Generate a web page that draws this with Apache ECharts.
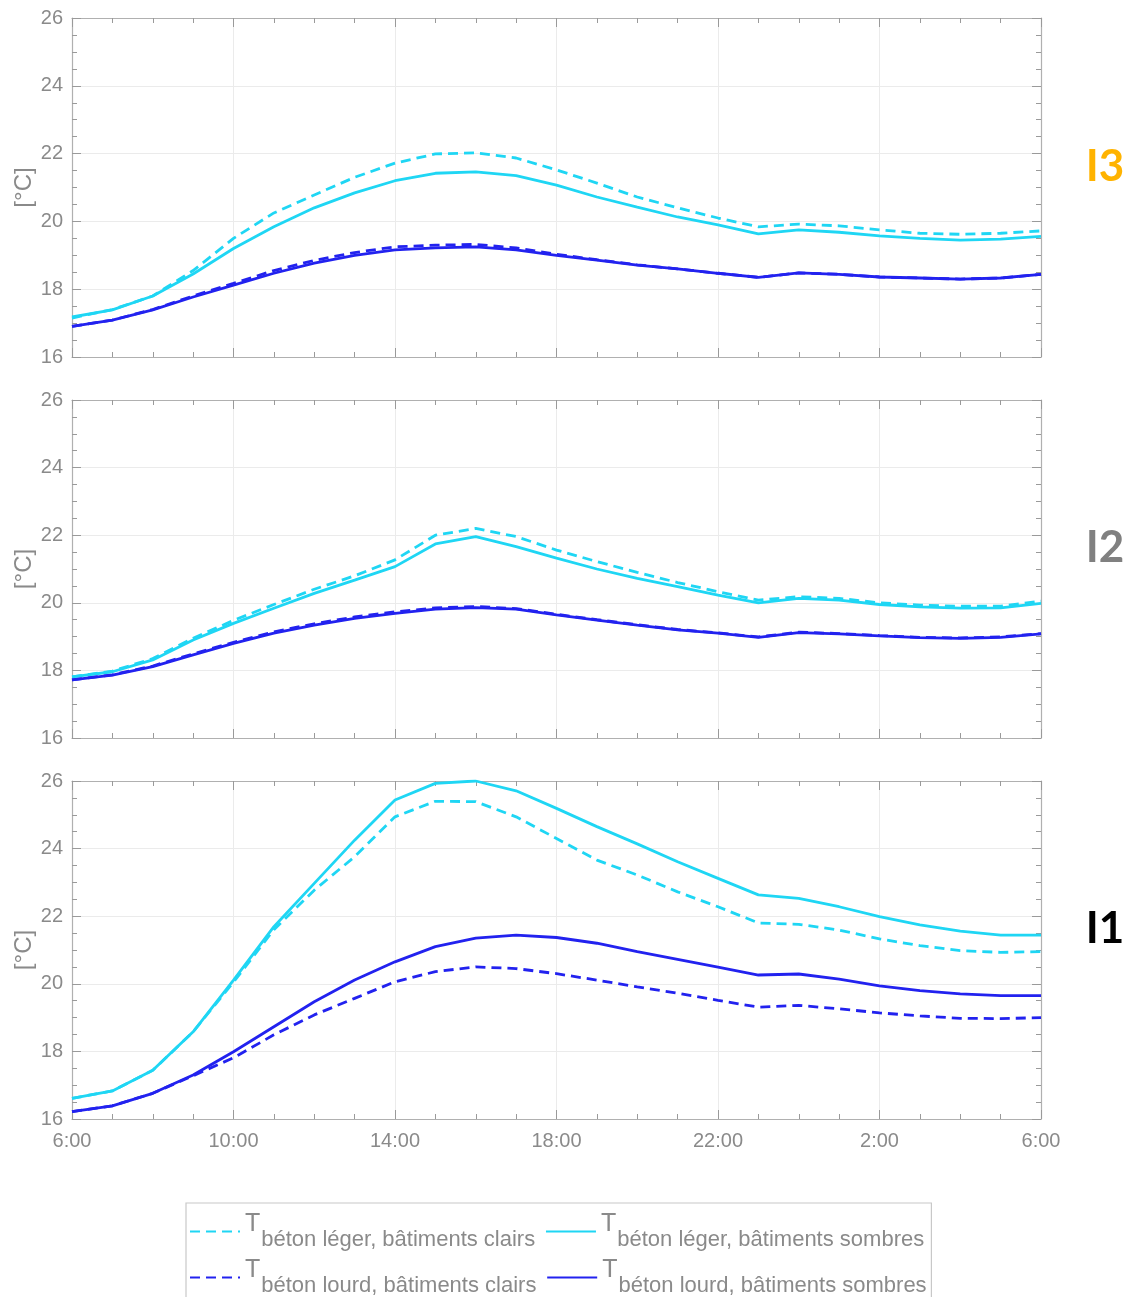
<!DOCTYPE html>
<html>
<head>
<meta charset="utf-8">
<script src="https://cdn.jsdelivr.net/npm/echarts@6/dist/echarts.min.js"></script>
<style>
html,body{margin:0;padding:0;background:#fff;}
#chart{width:1131px;height:1297px;}
</style>
</head>
<body>
<div id="chart"></div>
<script>
// hours after 6:00
const hours = [0,1,2,3,4,5,6,7,8,9,10,11,12,13,14,15,16,17,18,19,20,21,22,23,24];
const xTickLabels = ['6:00','10:00','14:00','18:00','22:00','2:00','6:00'];
const panelNames = ['I3','I2','I1'];
const seriesNames = [
  'béton léger, bâtiments clairs',
  'béton léger, bâtiments sombres',
  'béton lourd, bâtiments clairs',
  'béton lourd, bâtiments sombres'
];

// Panel I3
const i3LegerClairs   = [17.15,17.40,17.80,18.55,19.50,20.25,20.78,21.30,21.72,21.99,22.02,21.87,21.52,21.13,20.72,20.40,20.10,19.84,19.92,19.87,19.75,19.65,19.62,19.65,19.72];
const i3LegerSombres  = [17.18,17.39,17.80,18.45,19.20,19.84,20.40,20.84,21.20,21.42,21.46,21.35,21.07,20.72,20.42,20.13,19.90,19.63,19.75,19.68,19.57,19.50,19.45,19.48,19.56];
const i3LourdClairs   = [16.90,17.09,17.40,17.80,18.17,18.55,18.85,19.08,19.25,19.30,19.32,19.22,19.03,18.87,18.72,18.60,18.47,18.35,18.48,18.44,18.36,18.33,18.30,18.33,18.44];
const i3LourdSombres  = [16.90,17.09,17.39,17.77,18.12,18.47,18.77,19.00,19.16,19.22,19.25,19.16,19.00,18.86,18.71,18.60,18.47,18.35,18.48,18.44,18.36,18.33,18.30,18.33,18.44];

// Panel I2
const i2LegerClairs   = [17.81,17.98,18.35,18.95,19.48,19.95,20.40,20.80,21.27,22.00,22.20,21.96,21.56,21.22,20.90,20.60,20.33,20.08,20.18,20.13,20.00,19.93,19.90,19.90,20.05];
const i2LegerSombres  = [17.81,17.96,18.31,18.90,19.39,19.84,20.28,20.67,21.07,21.74,21.96,21.66,21.32,21.00,20.72,20.48,20.23,20.00,20.13,20.08,19.95,19.88,19.84,19.85,19.98];
const i2LourdClairs   = [17.72,17.87,18.13,18.49,18.83,19.14,19.38,19.58,19.73,19.85,19.89,19.83,19.66,19.50,19.35,19.21,19.11,18.99,19.13,19.09,19.03,18.98,18.96,18.99,19.09];
const i2LourdSombres  = [17.72,17.86,18.11,18.46,18.80,19.10,19.34,19.54,19.69,19.81,19.86,19.81,19.64,19.49,19.34,19.20,19.10,18.98,19.12,19.08,19.02,18.97,18.95,18.98,19.08];

// Panel I1
const i1LegerClairs   = [16.61,16.83,17.44,18.58,20.05,21.60,22.77,23.76,24.94,25.40,25.39,24.94,24.30,23.66,23.22,22.72,22.28,21.80,21.76,21.59,21.33,21.13,20.98,20.93,20.95];
const i1LegerSombres  = [16.61,16.83,17.44,18.58,20.11,21.69,22.97,24.25,25.44,25.93,26.00,25.71,25.19,24.65,24.14,23.61,23.12,22.63,22.53,22.28,21.99,21.74,21.56,21.44,21.44];
const i1LourdClairs   = [16.22,16.39,16.76,17.28,17.81,18.49,19.08,19.57,20.06,20.36,20.50,20.45,20.30,20.11,19.91,19.72,19.51,19.31,19.36,19.26,19.14,19.05,18.98,18.97,19.00];
const i1LourdSombres  = [16.22,16.39,16.76,17.30,17.99,18.73,19.47,20.11,20.65,21.10,21.35,21.44,21.37,21.20,20.95,20.72,20.49,20.26,20.29,20.14,19.94,19.80,19.70,19.65,19.65];

const panels = [
  [i3LegerClairs, i3LegerSombres, i3LourdClairs, i3LourdSombres],
  [i2LegerClairs, i2LegerSombres, i2LourdClairs, i2LourdSombres],
  [i1LegerClairs, i1LegerSombres, i1LourdClairs, i1LourdSombres]
];

const CYAN = '#1fd6f4';
const BLUE = '#2222ef';
const seriesColors = [CYAN, CYAN, BLUE, BLUE];
const seriesDashed = [true, false, true, false];

const gridTops = [18, 400, 781];
const gridHeights = [339, 338, 338];
const panelLabelY = [167, 548, 929];
const panelLabelColors = ['#ffb300', '#808080', '#000000'];

const FONT = 'Liberation Sans, Arial, sans-serif';
const AXIS_COLOR = '#b0b0b0';
const LABEL_COLOR = '#8a8a8a';

const grids = [], xAxes = [], yAxes = [], series = [];
gridTops.forEach((top, g) => {
  grids.push({left: 72, right: 90, top: top, height: gridHeights[g], show: false, containLabel: false, outerBoundsMode: 'none'});
  const common = {
    type: 'value', gridIndex: g, min: 0, max: 24, interval: 4,
    axisLine: {show: true, onZero: false, lineStyle: {color: AXIS_COLOR, width: 1.2}},
    axisTick: {show: true, inside: true, length: 9, lineStyle: {color: '#9a9a9a'}},
    minorTick: {show: true, splitNumber: 4, length: 5, lineStyle: {color: '#9a9a9a'}}
  };
  xAxes.push(Object.assign({}, common, {
    position: 'bottom',
    axisLabel: {
      show: g === 2, fontSize: 20, color: LABEL_COLOR, fontFamily: FONT, margin: 12,
      formatter: (v) => xTickLabels[Math.round(v / 4)]
    },
    splitLine: {show: true, lineStyle: {color: '#ebebeb', width: 1}}
  }));
  xAxes.push(Object.assign({}, common, {
    position: 'top', axisLabel: {show: false}, splitLine: {show: false}
  }));
  const ycommon = {
    type: 'value', gridIndex: g, min: 16, max: 26, interval: 2,
    axisLine: {show: true, onZero: false, lineStyle: {color: AXIS_COLOR, width: 1.2}},
    axisTick: {show: true, inside: true, length: 9, lineStyle: {color: '#9a9a9a'}},
    minorTick: {show: true, splitNumber: 4, length: 5, lineStyle: {color: '#9a9a9a'}}
  };
  yAxes.push(Object.assign({}, ycommon, {
    position: 'left',
    name: '[°C]', nameLocation: 'middle', nameGap: 36, nameMoveOverlap: false,
    nameTextStyle: {fontSize: 24, color: LABEL_COLOR, fontFamily: FONT},
    axisLabel: {fontSize: 20, color: LABEL_COLOR, fontFamily: FONT, margin: 9},
    splitLine: {show: true, lineStyle: {color: '#ebebeb', width: 1}}
  }));
  yAxes.push(Object.assign({}, ycommon, {
    position: 'right', axisLabel: {show: false}, splitLine: {show: false}
  }));
  // draw solid first, dashed on top
  [1, 3, 0, 2].forEach((k) => {
    const vals = panels[g][k];
    series.push({
      type: 'line',
      name: seriesNames[k],
      xAxisIndex: g * 2,
      yAxisIndex: g * 2,
      data: hours.map((h, i) => [h, vals[i]]),
      symbol: 'none',
      smooth: false,
      clip: true,
      silent: true,
      animation: false,
      lineStyle: {color: seriesColors[k], width: 2.8, type: seriesDashed[k] ? [10, 6] : 'solid'},
      itemStyle: {color: seriesColors[k]}
    });
  });
});

const graphics = panelNames.map((name, g) => ({
  type: 'text',
  x: 1105, y: panelLabelY[g],
  style: {
    text: name, fill: panelLabelColors[g],
    font: 'bold 44px Lato, "Open Sans", sans-serif',
    textAlign: 'center', textVerticalAlign: 'middle'
  }
}));

const chart = echarts.init(document.getElementById('chart'), null, {renderer: 'canvas'});
chart.setOption({
  animation: false,
  backgroundColor: '#ffffff',
  grid: grids,
  xAxis: xAxes,
  yAxis: yAxes,
  series: series,
  graphic: graphics,
  legend: {
    data: seriesNames,
    left: 186, top: 1203, width: 760,
    orient: 'horizontal',
    itemWidth: 50, itemHeight: 14, itemGap: 7,
    padding: [9, 2, 30, 3],
    borderColor: '#c8c8c8', borderWidth: 1.2,
    backgroundColor: '#fff',
    selectedMode: false,
    itemStyle: {opacity: 0, borderWidth: 0},
    formatter: (n) => '{t|T}{s|' + n + '}{e| }',
    textStyle: {
      color: '#8a8a8a', fontFamily: FONT,
      rich: {
        t: {fontSize: 25, color: '#8a8a8a', fontFamily: FONT, verticalAlign: 'top'},
        s: {fontSize: 22, color: '#8a8a8a', fontFamily: FONT, padding: [17, 0, 0, 1]},
        e: {fontSize: 10, width: 5, color: '#8a8a8a'}
      }
    }
  }
});
</script>
</body>
</html>
